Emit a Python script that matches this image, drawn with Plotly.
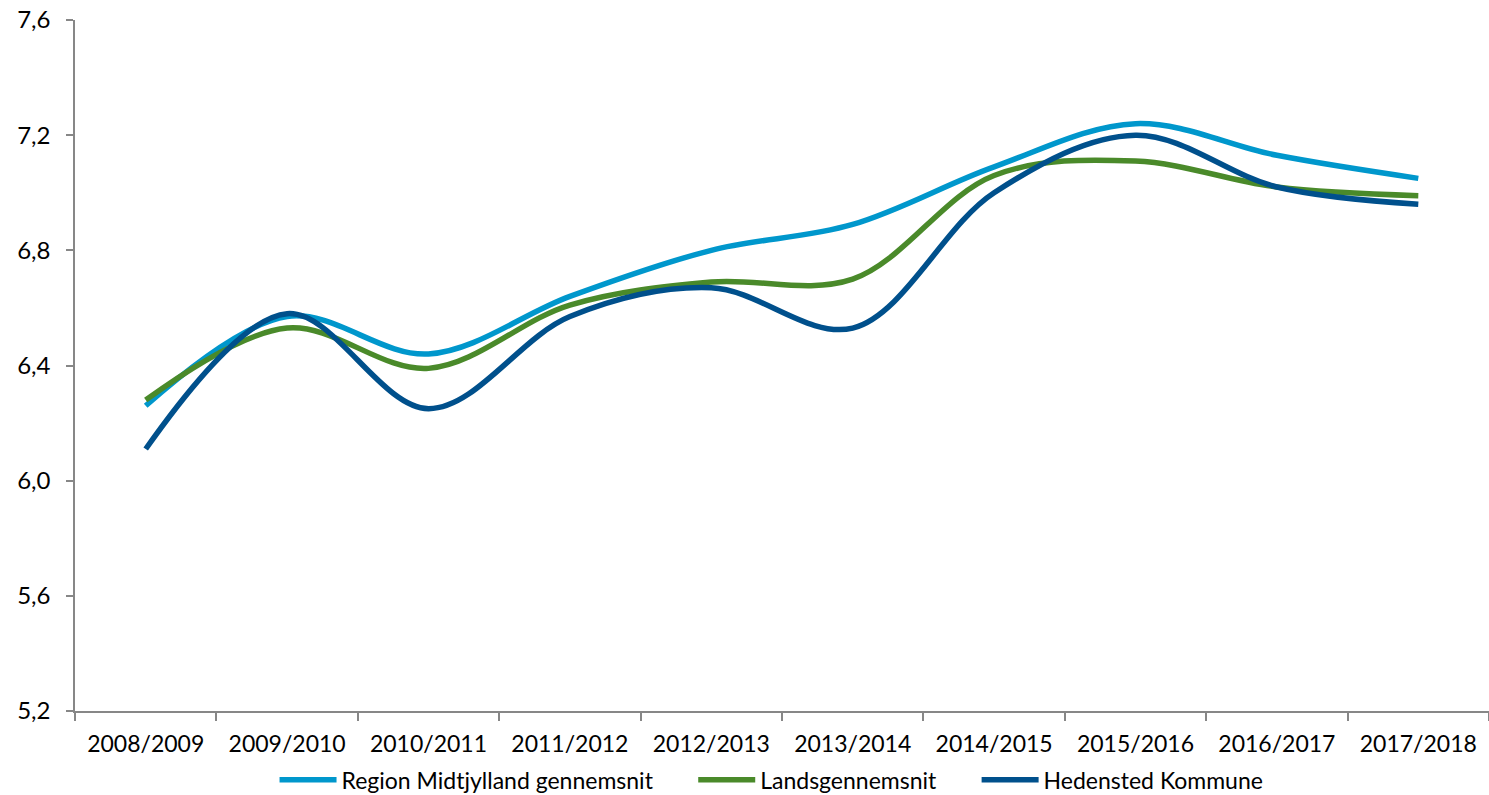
import plotly.graph_objects as go

seasons = ["2008/2009", "2009/2010", "2010/2011", "2011/2012", "2012/2013",
           "2013/2014", "2014/2015", "2015/2016", "2016/2017", "2017/2018"]
region = [6.26, 6.57, 6.44, 6.64, 6.80, 6.89, 7.09, 7.24, 7.13, 7.05]
lands = [6.28, 6.53, 6.39, 6.61, 6.69, 6.70, 7.06, 7.11, 7.02, 6.99]
hedensted = [6.11, 6.58, 6.25, 6.57, 6.67, 6.53, 7.00, 7.20, 7.02, 6.96]

pad = "\u00a0" * 6
series = [
    ("Region Midtjylland gennemsnit" + pad, region, "#0097CC"),
    ("Landsgennemsnit" + pad, lands, "#4A8A2A"),
    ("Hedensted Kommune", hedensted, "#00508C"),
]

fig = go.Figure()
for name, vals, col in series:
    fig.add_trace(go.Scatter(
        x=seasons, y=vals, name=name, mode="lines",
        line=dict(color=col, width=5.5, shape="spline", smoothing=1.0),
    ))

axis_col = "#878787"
fig.update_layout(
    width=1489, height=795,
    margin=dict(l=75, r=0, t=20, b=84),
    plot_bgcolor="white", paper_bgcolor="white",
    separators=",.",
    font=dict(family="Lato, Open Sans, sans-serif", size=20, color="#000000"),
    showlegend=True,
    legend=dict(orientation="h", x=0.4926, xanchor="center",
                yref="container", y=0.019, yanchor="middle",
                font=dict(size=23), itemwidth=57, tracegroupgap=0),
)
fig.update_xaxes(
    type="category", showgrid=False, showline=True, linecolor=axis_col, linewidth=1.5,
    ticks="outside", tickson="boundaries", ticklen=8, tickcolor=axis_col, tickwidth=1.5,
    range=[-0.5, 9.5], tickfont=dict(size=23), automargin=False, ticklabelstandoff=12,
)
fig.update_yaxes(
    range=[5.2, 7.6], dtick=0.4, tick0=5.2, tickformat=".1f",
    showgrid=False, showline=True, linecolor=axis_col, linewidth=1.5,
    ticks="outside", ticklen=7, tickcolor=axis_col, tickwidth=1.5,
    zeroline=False, tickfont=dict(size=24), automargin=False, ticklabelstandoff=11,
)

post = (
    "document.body.style.margin='0';"
    "document.body.style.padding='0';"
    "document.body.style.overflow='hidden';"
    "document.documentElement.style.overflow='hidden';"
)
fig.write_html("out.html", config={"displayModeBar": False}, post_script=post)
